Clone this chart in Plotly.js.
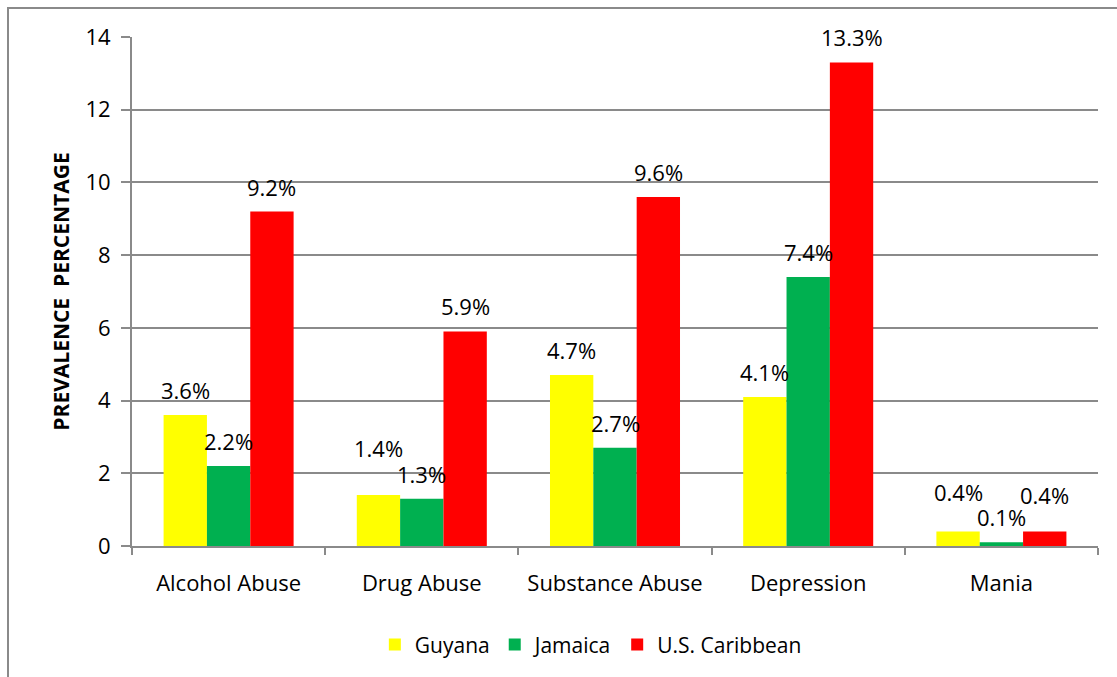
<!DOCTYPE html>
<html>
<head>
<meta charset="utf-8">
<script src="https://cdn.plot.ly/plotly-3.0.1.min.js"></script>
<style>
  html, body { margin: 0; padding: 0; overflow: hidden; background: #fff; }
  #chart { width: 1117px; height: 677px; }
  #frame { position: absolute; left: 7px; top: 7px; width: 1300px; height: 900px;
           border: 2px solid #8a8a8a; pointer-events: none; box-sizing: border-box; }
</style>
</head>
<body>
<div id="chart"></div>
<div id="frame"></div>
<script>
const categories = ["Alcohol Abuse", "Drug Abuse", "Substance Abuse", "Depression", "Mania"];
const seriesNames = ["Guyana", "Jamaica", "U.S. Caribbean"];
const guyana = [3.6, 1.4, 4.7, 4.1, 0.4];
const jamaica = [2.2, 1.3, 2.7, 7.4, 0.1];
const usCaribbean = [9.2, 5.9, 9.6, 13.3, 0.4];
const yTicks = [0, 2, 4, 6, 8, 10, 12, 14];

const colors = ["#FFFF00", "#00B050", "#FF0000"];
const allSeries = [guyana, jamaica, usCaribbean];
const FONT = "Open Sans, Noto Sans, sans-serif";

const W = 1117, H = 677;
const margin = { l: 132, r: 19, t: 37, b: 129 };
const bargap = 0.327;
const plotW = W - margin.l - margin.r;
const catW = plotW / categories.length;
const barW = catW * (1 - bargap) / allSeries.length;

// labels that were nudged upward in the original to avoid overlaps: [series, category, extra px]
const labelNudges = [[0, 1, 22], [0, 4, 14], [2, 4, 11]];

const traces = allSeries.map((vals, i) => ({
  type: "bar",
  name: seriesNames[i],
  x: categories,
  y: vals,
  marker: { color: colors[i], line: { width: 0 } },
  hoverinfo: "x+y+name"
}));

const annotations = [];
allSeries.forEach((vals, i) => {
  vals.forEach((v, j) => {
    const nudge = labelNudges.find(n => n[0] === i && n[1] === j);
    annotations.push({
      x: categories[j], y: v, xref: "x", yref: "y",
      text: v.toFixed(1) + "%",
      showarrow: false,
      xanchor: "center", yanchor: "bottom",
      xshift: (i - 1) * barW,
      yshift: 8 + (nudge ? nudge[2] : 0),
      font: { family: FONT, size: 22, color: "#000" }
    });
  });
});

const layout = {
  width: W, height: H,
  margin: margin,
  paper_bgcolor: "#fff",
  plot_bgcolor: "#fff",
  barmode: "group",
  bargap: bargap,
  bargroupgap: 0,
  showlegend: true,
  legend: {
    orientation: "h",
    x: 0.475, xanchor: "center",
    y: -0.194, yanchor: "middle",
    font: { family: FONT, size: 21, color: "#000" },
    itemwidth: 30,
    traceorder: "normal"
  },
  xaxis: {
    type: "category",
    showline: true, linecolor: "#8a8a8a", linewidth: 2,
    ticks: "outside", tickson: "boundaries", ticklen: 7, tickcolor: "#8a8a8a", tickwidth: 2,
    tickfont: { family: FONT, size: 22, color: "#000" },
    ticklabelstandoff: 17,
    showgrid: false, zeroline: false, fixedrange: true
  },
  yaxis: {
    range: [0, 14],
    tickvals: yTicks,
    ticktext: yTicks.map(String),
    showline: true, linecolor: "#8a8a8a", linewidth: 2,
    ticks: "outside", ticklen: 9, tickcolor: "#8a8a8a", tickwidth: 2,
    tickfont: { family: FONT, size: 22, color: "#000" },
    ticklabelstandoff: 6,
    showgrid: true, gridcolor: "#8a8a8a", gridwidth: 2,
    zeroline: false, fixedrange: true,
    title: {
      text: "<b>PREVALENCE\u00a0\u00a0PERCENTAGE</b>",
      font: { family: FONT, size: 21, color: "#000" },
      standoff: 10
    }
  },
  annotations: annotations
};

Plotly.newPlot("chart", traces, layout, { displayModeBar: false, staticPlot: true });
</script>
</body>
</html>
